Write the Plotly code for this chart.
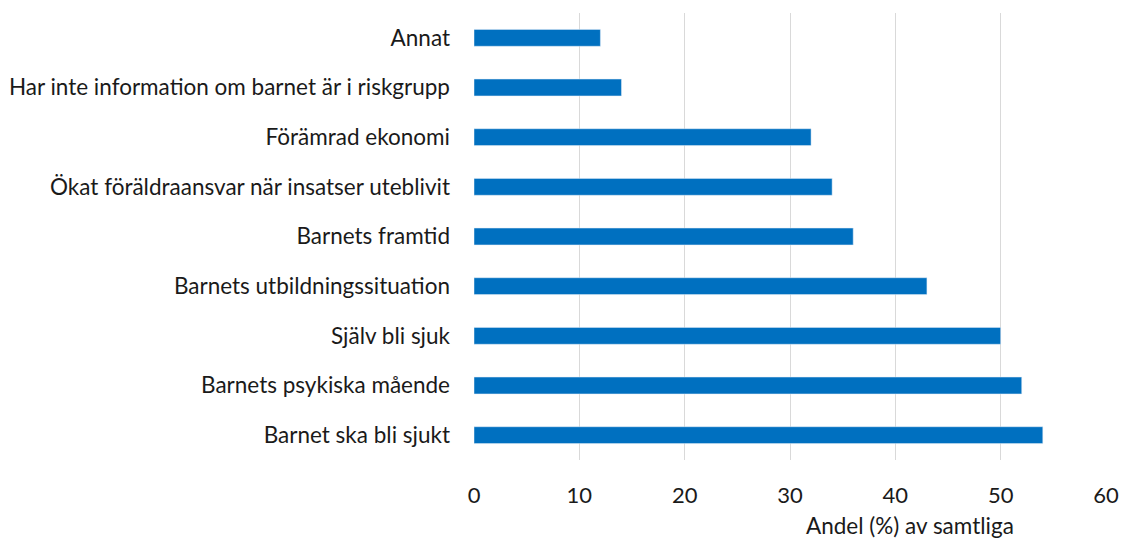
import plotly.graph_objects as go

categories = [
    "Annat",
    "Har inte information om barnet är i riskgrupp",
    "Förämrad ekonomi",
    "Ökat föräldraansvar när insatser uteblivit",
    "Barnets framtid",
    "Barnets utbildningssituation",
    "Själv bli sjuk",
    "Barnets psykiska mående",
    "Barnet ska bli sjukt",
]
values = [12, 14, 32, 34, 36, 43, 50, 52, 54]
x_ticks = [0, 10, 20, 30, 40, 50, 60]

FONT = "Lato, 'Open Sans', sans-serif"
TEXT = "#1a1a1a"

fig = go.Figure(go.Bar(
    y=categories,
    x=values,
    orientation="h",
    marker_color="#0070C0",
    hovertemplate="%{y}: %{x}%<extra></extra>",
))

fig.update_layout(
    width=1131,
    height=539,
    paper_bgcolor="white",
    plot_bgcolor="white",
    font=dict(family=FONT, color=TEXT),
    margin=dict(l=474, r=25, t=13, b=79, autoexpand=False),
    bargap=0.66,
    showlegend=False,
)
fig.update_xaxes(
    range=[0, 60],
    tickvals=x_ticks,
    tickfont=dict(size=22),
    showgrid=True,
    gridcolor="#d9d9d9",
    gridwidth=1,
    zeroline=False,
    showline=False,
    ticklabelstandoff=20,
)
fig.update_yaxes(
    autorange="reversed",
    tickfont=dict(size=22.5),
    showgrid=False,
    zeroline=False,
    showline=False,
    ticklabelstandoff=23,
)
fig.add_annotation(
    text="Andel (%) av samtliga",
    xref="x", yref="paper",
    x=41.4, y=0,
    yanchor="middle",
    yshift=-65,
    showarrow=False,
    font=dict(size=22.5, family=FONT, color=TEXT),
)

# drop the default 8px body margin so the figure fills the window
fig.write_html(
    "out.html",
    config={"displayModeBar": False},
    post_script="document.body.style.margin='0px';",
)
